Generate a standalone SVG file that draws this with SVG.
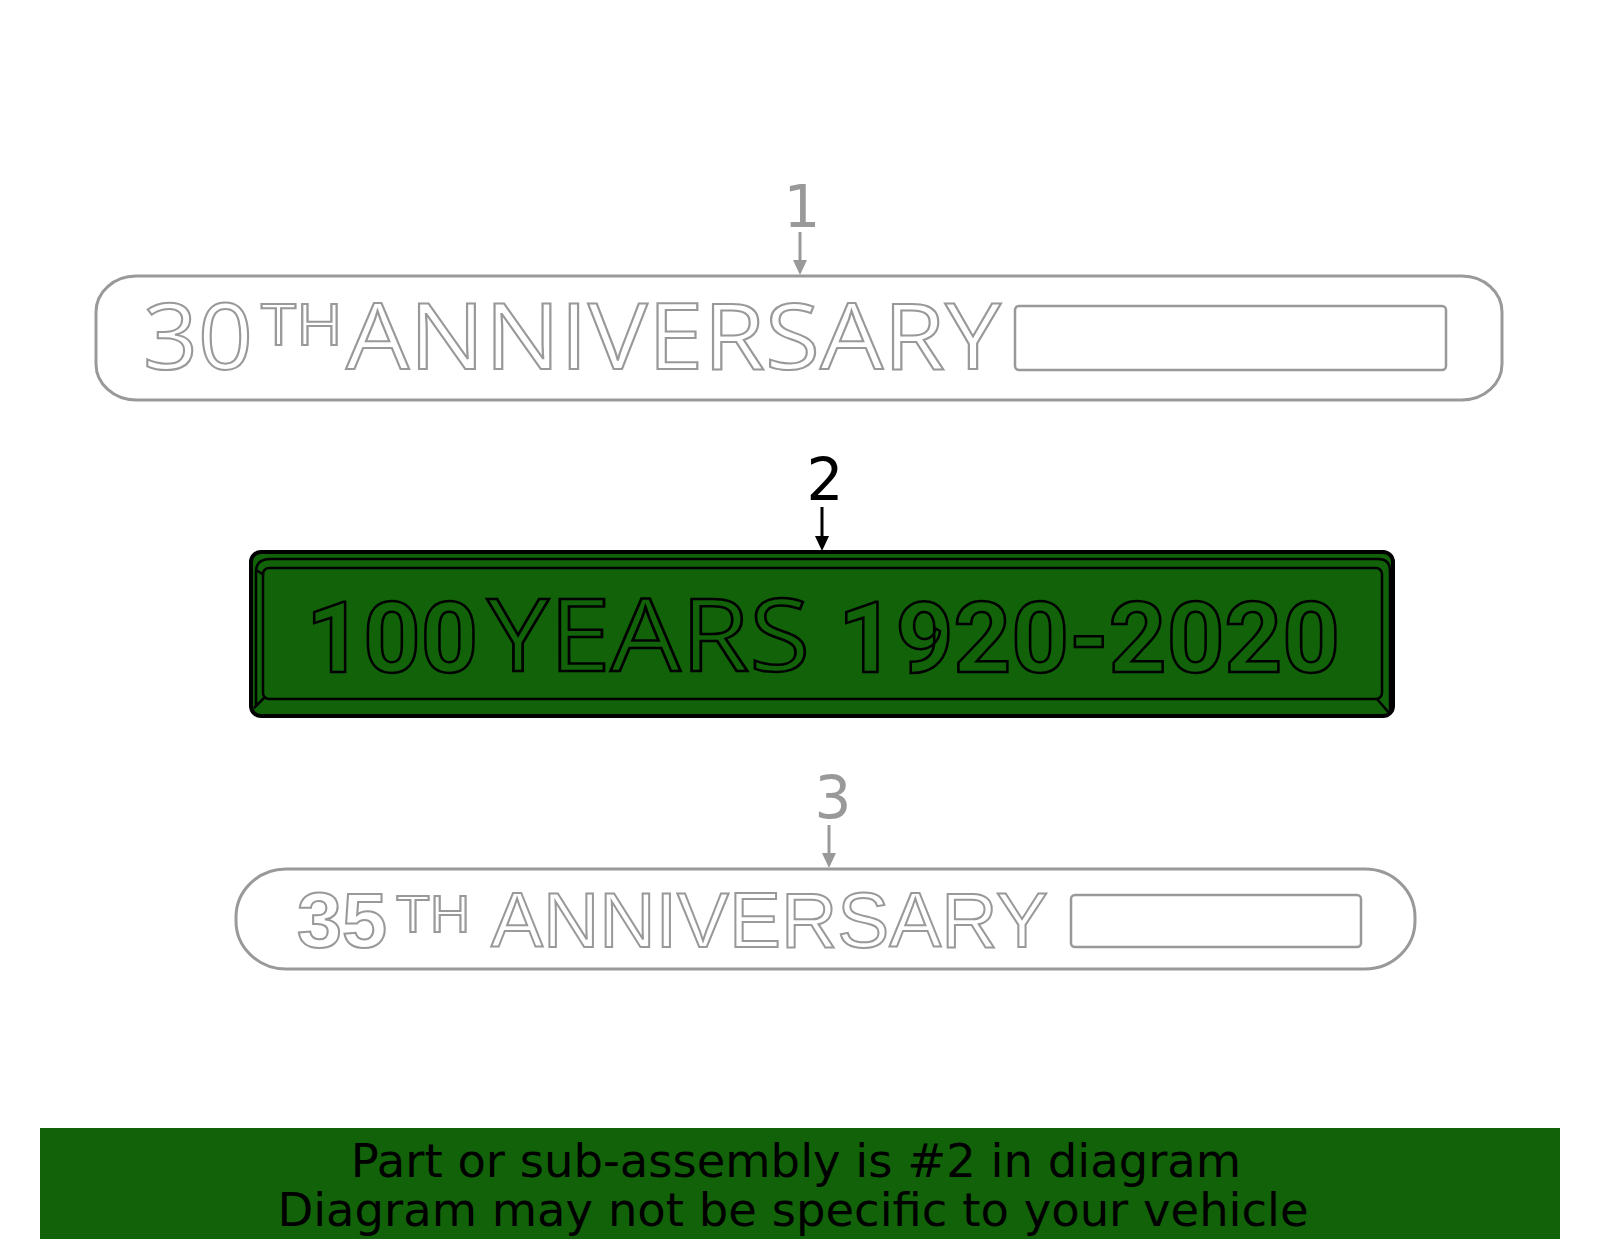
<svg xmlns="http://www.w3.org/2000/svg" width="1600" height="1249" viewBox="0 0 1600 1249">
<style>
.gline{fill:none;stroke:#999;stroke-width:3}
.gtxt{fill:#fff;stroke:#999;stroke-width:2;font-family:"Open Sans","DejaVu Sans",sans-serif}
.g3txt{fill:#fff;stroke:#999;stroke-width:2;font-family:"Liberation Sans",Arial,sans-serif}
.btxt{fill:#116208;stroke:#000;stroke-width:2.5;font-family:"Open Sans","DejaVu Sans",sans-serif}
.bnum{fill:#116208;stroke:#000;stroke-width:2.5;font-family:Roboto,"Liberation Sans",sans-serif;font-weight:700}
.lbl{font-family:"DejaVu Sans",sans-serif;font-size:58px;text-anchor:middle}
.blk{fill:none;stroke:#000;stroke-width:2.5}
.foot{font-family:"DejaVu Sans",sans-serif;font-size:46.5px;text-anchor:middle;fill:#000}
</style>
<rect width="1600" height="1249" fill="#fff"/>

<g id="connectors">
<line x1="800" y1="232" x2="800" y2="262" stroke="#999" stroke-width="3"/>
<path d="M793,260 L807,260 L800,275 Z" fill="#999"/>
<line x1="822" y1="507" x2="822" y2="538" stroke="#000" stroke-width="3"/>
<path d="M815,536 L829,536 L822,551 Z" fill="#000"/>
<line x1="829" y1="825" x2="829" y2="855" stroke="#999" stroke-width="3"/>
<path d="M822,853 L836,853 L829,868 Z" fill="#999"/>
</g>

<g id="label1"><text class="lbl" x="802" y="227" fill="#999">1</text></g>
<g id="label2"><text class="lbl" x="825" y="500" fill="#000">2</text></g>
<g id="label3"><text class="lbl" x="833" y="818" fill="#999">3</text></g>

<g id="part1">
<rect class="gline" x="96" y="276" width="1406" height="124" rx="40" ry="36" fill="#fff"/>
<text class="gtxt" x="143" y="369" font-size="91" textLength="110" lengthAdjust="spacingAndGlyphs">30</text>
<text class="gtxt" x="261" y="345" font-size="56" textLength="82" lengthAdjust="spacingAndGlyphs">TH</text>
<text class="gtxt" x="346" y="369" font-size="91" textLength="655" lengthAdjust="spacingAndGlyphs">ANNIVERSARY</text>
<rect x="1015" y="306" width="431" height="64" rx="4" fill="none" stroke="#999" stroke-width="2.5"/>
</g>

<g id="part2">
<rect x="251" y="552" width="1142" height="164" rx="10" fill="#116208" stroke="#000" stroke-width="4"/>
<path class="blk" d="M256,706 L256,572 Q256,559 270,559 L1378,559 Q1390,559 1390,571 L1390,712"/>
<rect class="blk" x="263" y="568" width="1119" height="131" rx="6"/>
<line class="blk" x1="256" y1="570" x2="264" y2="575"/>
<line class="blk" x1="265" y1="697" x2="254" y2="708"/>
<line class="blk" x1="1377" y1="699" x2="1390" y2="714"/>
<text class="bnum" x="306" y="672" font-size="98" textLength="172" lengthAdjust="spacingAndGlyphs">100</text>
<text class="btxt" x="487" y="671" font-size="100" textLength="323" lengthAdjust="spacingAndGlyphs">YEARS</text>
<text class="bnum" x="838" y="672" font-size="98" textLength="502" lengthAdjust="spacingAndGlyphs">1920-2020</text>
</g>

<g id="part3">
<rect class="gline" x="236" y="869" width="1179" height="100" rx="50" ry="48" fill="#fff"/>
<text class="g3txt" x="297" y="947" font-size="78" font-weight="bold" textLength="90" lengthAdjust="spacingAndGlyphs">35</text>
<text class="g3txt" x="396" y="932" font-size="51" textLength="74" lengthAdjust="spacingAndGlyphs">TH</text>
<text class="g3txt" x="491" y="947" font-size="78" textLength="557" lengthAdjust="spacingAndGlyphs">ANNIVERSARY</text>
<rect x="1071" y="895" width="290" height="52" rx="4" fill="none" stroke="#999" stroke-width="2.5"/>
</g>

<g id="footer">
<rect x="40" y="1128" width="1520" height="111" fill="#116208"/>
<text class="foot" x="796" y="1177">Part or sub-assembly is #2 in diagram</text>
<text class="foot" x="793" y="1226">Diagram may not be specific to your vehicle</text>
</g>
</svg>
